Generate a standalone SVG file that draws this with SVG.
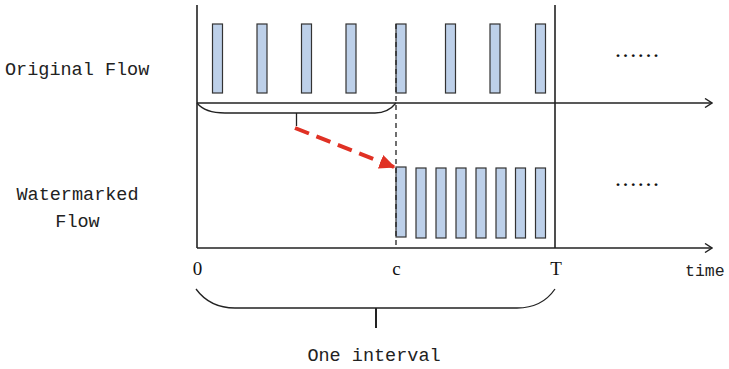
<svg xmlns="http://www.w3.org/2000/svg" width="729" height="369" viewBox="0 0 729 369">
<defs>
<style>
.ax{stroke:#222;stroke-width:1.6;fill:none}
.pk{fill:#bdd0e9;stroke:#333;stroke-width:1.2}
.lbl{font-family:"Liberation Mono",monospace;font-size:18.5px;fill:#222}
.num{font-family:"Liberation Serif",serif;font-size:19px;fill:#111}
.br{stroke:#222;stroke-width:1.3;fill:none}
.dots{font-family:"Liberation Serif",serif;font-size:24px;letter-spacing:1.6px;fill:#111}
</style>
<marker id="open" viewBox="0 0 10 10" refX="9" refY="5" markerWidth="10" markerHeight="10" markerUnits="userSpaceOnUse" orient="auto">
<path d="M2,0.5 L9,5 L2,9.5" fill="none" stroke="#222" stroke-width="1.4"/>
</marker>
<marker id="red" viewBox="0 0 10 10" refX="9" refY="5" markerWidth="16" markerHeight="16" markerUnits="userSpaceOnUse" orient="auto">
<path d="M0,0.5 L10,5 L0,9.5 Z" fill="#e03124"/>
</marker>
</defs>
<rect width="729" height="369" fill="#fff"/>
<g id="axes">
<line class="ax" x1="197" y1="5" x2="197" y2="248"/>
<line class="ax" x1="555" y1="5" x2="555" y2="248"/>
<line class="ax" x1="197" y1="103" x2="712" y2="103" marker-end="url(#open)"/>
<line class="ax" x1="197" y1="248" x2="712" y2="248" marker-end="url(#open)"/>
</g>
<g id="original-packets">
<rect class="pk" x="212.5" y="24" width="10" height="69"/>
<rect class="pk" x="257" y="24" width="10" height="69"/>
<rect class="pk" x="301.5" y="24" width="10" height="69"/>
<rect class="pk" x="346" y="24" width="10" height="69"/>
<rect class="pk" x="396" y="24" width="10" height="69"/>
<rect class="pk" x="445.5" y="24" width="10" height="69"/>
<rect class="pk" x="490" y="24" width="10" height="69"/>
<rect class="pk" x="535.5" y="24" width="10" height="69"/>
</g>
<g id="watermarked-packets">
<rect class="pk" x="396" y="167" width="10" height="70"/>
<rect class="pk" x="416" y="168" width="10" height="70"/>
<rect class="pk" x="436" y="168" width="10" height="70"/>
<rect class="pk" x="456" y="168" width="10" height="70"/>
<rect class="pk" x="476" y="168" width="10" height="70"/>
<rect class="pk" x="496" y="168" width="10" height="70"/>
<rect class="pk" x="515.5" y="168" width="10" height="70"/>
<rect class="pk" x="535.5" y="168" width="10" height="70"/>
</g>
<g id="connectors">
<line x1="396" y1="24" x2="396" y2="248" stroke="#222" stroke-width="1.3" stroke-dasharray="5,4"/>
<path class="br" d="M197,103 Q205,113 225,113 L375,113 Q388,113 396,103"/>
<line class="br" x1="296.5" y1="113" x2="296.5" y2="126"/>
<line x1="295" y1="128" x2="394" y2="167" stroke="#e03124" stroke-width="4" stroke-dasharray="15,8" marker-end="url(#red)"/>
<path class="br" d="M196,289 Q210,308 235,308 L517,308 Q542,308 555,289"/>
<line x1="376" y1="308" x2="376" y2="328" stroke="#222" stroke-width="2"/>
</g>
<g id="labels">
<text class="lbl" x="5" y="75">Original Flow</text>
<text class="lbl" x="77.5" y="200" text-anchor="middle">Watermarked</text>
<text class="lbl" x="77.5" y="227" text-anchor="middle">Flow</text>
<text class="lbl" x="374" y="361" text-anchor="middle">One interval</text>
<text class="lbl" x="685" y="276" style="font-size:16.5px">time</text>
<text class="num" x="197.5" y="275" text-anchor="middle">0</text>
<text class="num" x="396.5" y="275" text-anchor="middle">c</text>
<text class="num" x="556" y="275" text-anchor="middle">T</text>
<text class="dots" x="615" y="57">......</text>
<text class="dots" x="615" y="186">......</text>
</g>
</svg>
